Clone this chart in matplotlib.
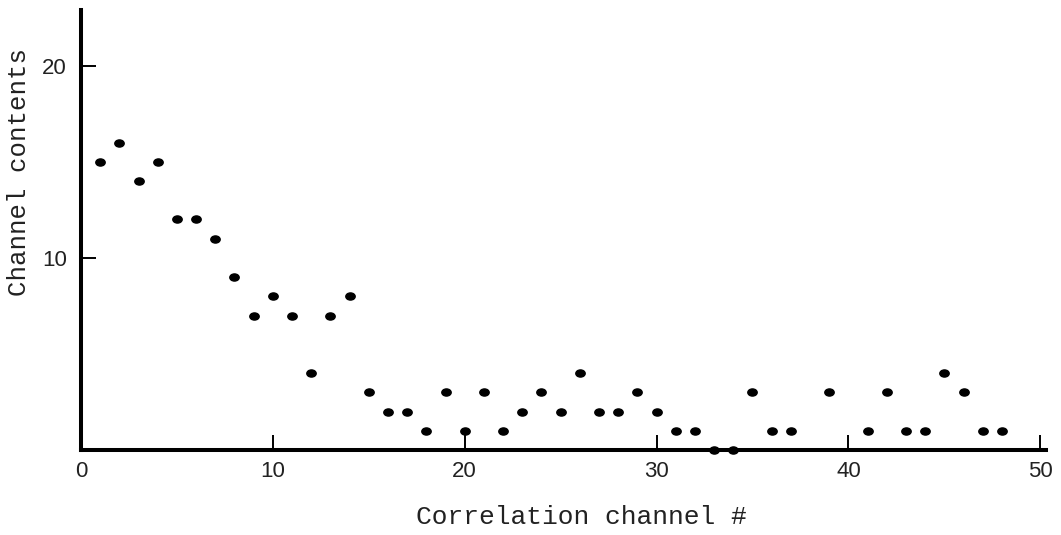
import matplotlib
matplotlib.use("Agg")
import matplotlib.pyplot as plt
from matplotlib.markers import MarkerStyle
from matplotlib.transforms import Affine2D

# Correlation channel number and the counts recorded in each channel
channels = list(range(1, 49))
contents = [15, 16, 14, 15, 12, 12, 11, 9, 7, 8,
            7, 4, 7, 8, 3, 2, 2, 1, 3, 1,
            3, 1, 2, 3, 2, 4, 2, 2, 3, 2,
            1, 1, 0, 0, 3, 1, 1, None, 3, None,
            1, 3, 1, 1, 4, 3, 1, 1]

x_ticks = [0, 10, 20, 30, 40, 50]
y_ticks = [10, 20]

xs = [c for c, v in zip(channels, contents) if v is not None]
ys = [v for v in contents if v is not None]

fig = plt.figure(figsize=(10.61, 5.35), dpi=100)
ax = fig.add_axes([81 / 1061, 85 / 535, 965 / 1061, 440 / 535])

# slightly flattened dots, like pen marks
dot = MarkerStyle("o", transform=Affine2D().scale(1.25, 0.95))
ax.plot(xs, ys, linestyle="none", marker=dot, markersize=5.4,
        color="black", clip_on=False, zorder=3)

ax.set_xlim(0, 50.3)
ax.set_ylim(0, 22.9)

for side in ("top", "right"):
    ax.spines[side].set_visible(False)
for side in ("left", "bottom"):
    ax.spines[side].set_linewidth(2.9)
    ax.spines[side].set_color("black")

ax.set_xticks(x_ticks)
ax.set_yticks(y_ticks)
ax.tick_params(axis="both", direction="in", length=11, width=1.4,
               color="black", labelsize=16)
ax.tick_params(axis="x", pad=8)
ax.tick_params(axis="y", pad=10)
for lab in ax.get_xticklabels() + ax.get_yticklabels():
    lab.set_family("Liberation Sans")
    lab.set_color("#222222")

ax.set_xlabel("Correlation channel #", family="Liberation Mono",
              fontsize=18.9, color="#222222")
ax.set_ylabel("Channel contents", family="Liberation Mono",
              fontsize=18.5, color="#222222")
ax.xaxis.set_label_coords(0.519, -0.125)
ax.yaxis.set_label_coords(-0.052, 0.632)

fig.savefig("out.png", dpi=100, facecolor="white")
